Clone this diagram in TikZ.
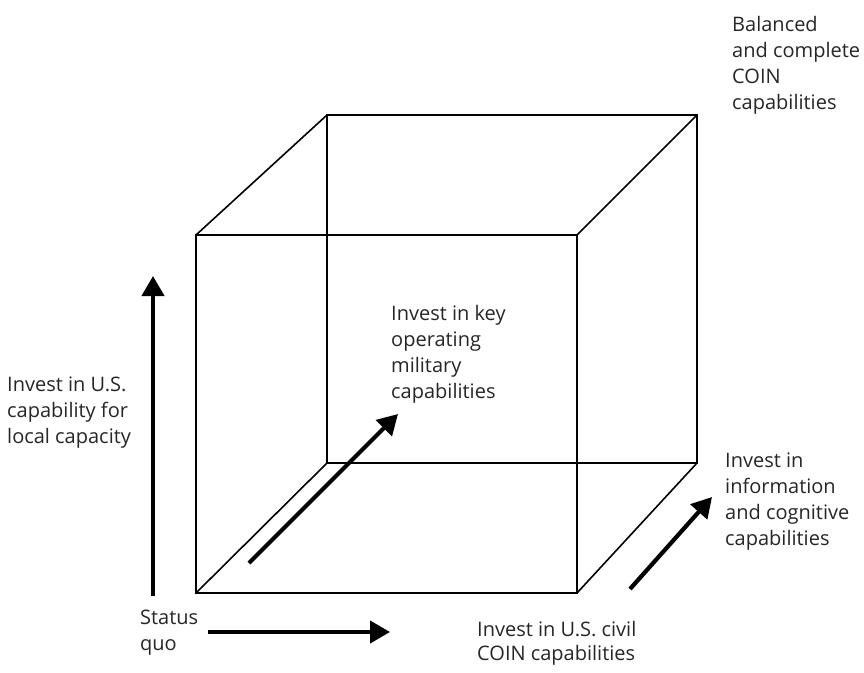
\documentclass[tikz,border=0pt]{standalone}
\usepackage{fontspec}
\setmainfont{Open Sans}
\usetikzlibrary{arrows.meta}
\begin{document}
\begin{tikzpicture}[x=1pt,y=-1pt,
  edge/.style={line width=1.6pt, line join=miter},
  axis/.style={line width=4.2pt, -{Triangle[length=20pt,width=22pt]}},
  lbl/.style={anchor=north west, inner sep=0pt, align=left, font=\fontsize{20}{26}\selectfont, text=black!85}]
\useasboundingbox (0,0) rectangle (864,672);
% cube corners
\coordinate (ftl) at (196,235);
\coordinate (ftr) at (577,235);
\coordinate (fbl) at (196,593);
\coordinate (fbr) at (577,593);
\coordinate (btl) at (327,115);
\coordinate (btr) at (697,115);
\coordinate (bbl) at (327,463);
\coordinate (bbr) at (697,463);
\draw[edge] (btl) -- (btr) -- (bbr) -- (bbl) -- cycle;
\draw[edge] (ftl) -- (ftr) -- (fbr) -- (fbl) -- cycle;
\draw[edge] (ftl) -- (btl);
\draw[edge] (ftr) -- (btr);
\draw[edge] (fbl) -- (bbl);
\draw[edge] (fbr) -- (bbr);
% arrows
\coordinate (va0) at (153,596);
\coordinate (va1) at (153,276);
\coordinate (ha0) at (208,632);
\coordinate (ha1) at (390,632);
\coordinate (da0) at (249,563);
\coordinate (da1) at (398,414);
\coordinate (ra0) at (630,589);
\coordinate (ra1) at (712,497);
\draw[axis] (va0) -- (va1);
\draw[axis] (ha0) -- (ha1);
\draw[axis] (da0) -- (da1);
\draw[axis] (ra0) -- (ra1);
% labels
\node[lbl] (bal) at (732,16) {Balanced\\and complete\\COIN\\capabilities};
\node[lbl] (key) at (391,305) {Invest in key\\operating\\military\\capabilities};
\node[lbl] (info) at (725,453) {Invest in\\information\\and cognitive\\capabilities};
\node[lbl] (loc) at (7,377) {Invest in U.S.\\capability for\\local capacity};
\node[lbl] (sq) at (140,610) {Status\\quo};
\node[lbl, font=\fontsize{20}{24}\selectfont] (civ) at (477,621) {Invest in U.S. civil\\COIN capabilities};
\end{tikzpicture}
\end{document}
